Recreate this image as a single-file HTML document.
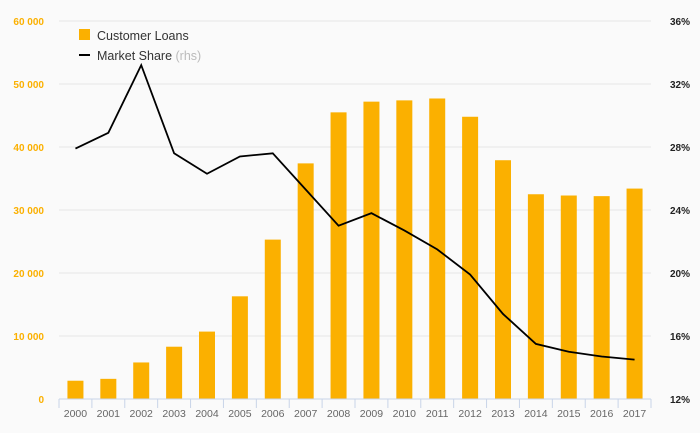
<!DOCTYPE html>
<html><head><meta charset="utf-8"><style>
body{margin:0;background:#fafafa;}
svg{display:block;font-family:"Liberation Sans","DejaVu Sans",sans-serif;}
</style></head><body>
<svg id="chart" width="700" height="433" viewBox="0 0 700 433">
<rect width="700" height="433" fill="#fafafa"/>
<g id="grid"></g><g id="bars"></g><g id="line"></g><g id="axes"></g>
<g>
<rect x="79" y="29" width="11" height="11" fill="#fbb000"/>
<text x="97" y="40" font-size="12.5" fill="#333">Customer Loans</text>
<rect x="79" y="54" width="11" height="2" fill="#000"/>
<text x="97" y="60" font-size="12.5" fill="#333">Market Share <tspan fill="#bbb">(rhs)</tspan></text>
</g>
</svg>
<script>
const categories=["2000","2001","2002","2003","2004","2005","2006","2007","2008","2009","2010","2011","2012","2013","2014","2015","2016","2017"];
const loans=[2900,3200,5800,8300,10700,16300,25300,37400,45500,47200,47400,47700,44800,37900,32500,32300,32200,33400];
const share=[27.9,28.9,33.2,27.6,26.3,27.4,27.6,25.3,23.0,23.8,22.7,21.5,19.9,17.4,15.5,15.0,14.7,14.5];
const leftTicks=[0,10000,20000,30000,40000,50000,60000];
const leftLabels=["0","10 000","20 000","30 000","40 000","50 000","60 000"];
const rightTicks=[12,16,20,24,28,32,36];
const rightLabels=["12%","16%","20%","24%","28%","32%","36%"];
const NS="http://www.w3.org/2000/svg";
const x0=59,x1=651,yb=399,yt=21;
const band=(x1-x0)/categories.length;
const xc=i=>x0+band*(i+0.5);
const yL=v=>yb-(v/60000)*(yb-yt);
const yR=v=>yb-((v-12)/24)*(yb-yt);
function mk(t,a,p){const e=document.createElementNS(NS,t);for(const k in a)e.setAttribute(k,a[k]);p.appendChild(e);return e;}
const grid=document.getElementById('grid'),bars=document.getElementById('bars'),line=document.getElementById('line'),axes=document.getElementById('axes');
leftTicks.forEach((v,i)=>{
 if(i>0){const g=mk('line',{x1:x0,x2:x1,y1:yL(v),y2:yL(v),stroke:'#e6e6e6','stroke-width':1},grid);
 
 }
 const t=mk('text',{x:44,y:yL(v)+4,'text-anchor':'end','font-size':10,'font-weight':'bold',fill:'#fbb000'},axes);
 t.textContent=leftLabels[i];
 
 
});
rightTicks.forEach((v,i)=>{
 const t=mk('text',{x:690,y:yR(v)+4,'text-anchor':'end','font-size':10,'font-weight':'bold',fill:'#222'},axes);
 t.textContent=rightLabels[i];
 
 
});
loans.forEach((v,i)=>{
 const r=mk('rect',{x:xc(i)-8,y:yL(v),width:16,height:yb-yL(v),fill:'#fbb000'},bars);
 
 
});
const pl=mk('polyline',{points:share.map((v,i)=>xc(i)+','+yR(v)).join(' '),fill:'none',stroke:'#000','stroke-width':1.8},line);


const ax=mk('line',{x1:x0,x2:x1,y1:yb,y2:yb,stroke:'#c8d4e8','stroke-width':1},axes);


for(let i=0;i<=categories.length;i++){
 const tk=mk('line',{x1:x0+band*i,x2:x0+band*i,y1:yb,y2:yb+9,stroke:'#c8d4e8','stroke-width':1},axes);
 
 
}
categories.forEach((c,i)=>{
 const t=mk('text',{x:xc(i),y:417,'text-anchor':'middle','font-size':10.5,fill:'#666'},axes);
 t.textContent=c;
 
 
});
</script>
</body></html>
